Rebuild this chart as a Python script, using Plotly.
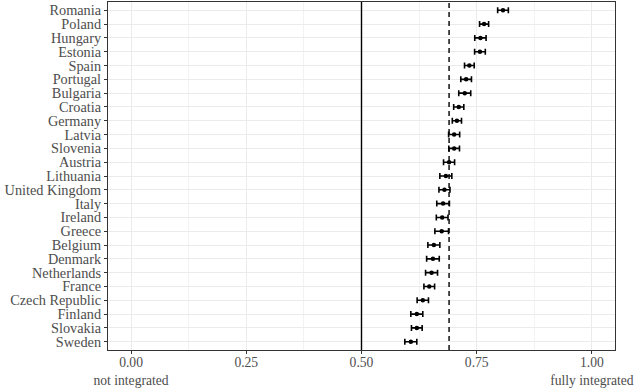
import plotly.graph_objects as go

countries = ["Romania", "Poland", "Hungary", "Estonia", "Spain", "Portugal", "Bulgaria",
             "Croatia", "Germany", "Latvia", "Slovenia", "Austria", "Lithuania",
             "United Kingdom", "Italy", "Ireland", "Greece", "Belgium", "Denmark",
             "Netherlands", "France", "Czech Republic", "Finland", "Slovakia", "Sweden"]
estimate = [0.807, 0.766, 0.758, 0.757, 0.734, 0.727, 0.724, 0.711, 0.707, 0.701, 0.701,
            0.690, 0.683, 0.680, 0.677, 0.675, 0.674, 0.657, 0.655, 0.652, 0.647, 0.633,
            0.620, 0.620, 0.607]
half_ci = [0.0116, 0.0098, 0.0123, 0.0116, 0.0105, 0.0116, 0.0130, 0.0110, 0.0100, 0.0120,
           0.0116, 0.0120, 0.0130, 0.0120, 0.0137, 0.0127, 0.0148, 0.0130, 0.0137, 0.0130,
           0.0116, 0.0123, 0.0130, 0.0116, 0.0130]
midpoint = 0.5
mean_value = 0.69
x_tickvals = [0, 0.25, 0.5, 0.75, 1.0]
x_ticktext = ["0.00<br>not integrated", "0.25", "0.50", "0.75", "1.00<br>fully integrated"]

fig = go.Figure()
fig.add_trace(go.Scatter(
    x=estimate, y=countries, mode="markers",
    marker=dict(color="black", size=4.5),
    error_x=dict(type="data", array=half_ci, symmetric=True, color="black",
                 thickness=1.6, width=3),
    showlegend=False, cliponaxis=False, hoverinfo="skip",
))

fig.add_shape(type="line", x0=midpoint, x1=midpoint, y0=0, y1=1, xref="x", yref="paper",
              line=dict(color="black", width=1.4), layer="above")
fig.add_shape(type="line", x0=mean_value, x1=mean_value, y0=0, y1=1, xref="x", yref="paper",
              line=dict(color="black", width=1.4, dash="5px,4px"), layer="above")

font = dict(family="Liberation Serif, Times New Roman, serif", size=14.3, color="#4D4D4D")
xfont = dict(family="Liberation Serif, Times New Roman, serif", size=13.6, color="#4D4D4D")
fig.update_layout(
    width=640, height=389,
    margin=dict(l=108, r=25, t=2, b=39, autoexpand=False),
    plot_bgcolor="white", paper_bgcolor="white",
    font=font,
    xaxis=dict(
        range=[-0.05, 1.05], tickvals=x_tickvals, ticktext=x_ticktext,
        automargin=False,
        showgrid=True, gridcolor="#EBEBEB", gridwidth=1.1,
        minor=dict(dtick=0.125, tick0=0, showgrid=True, gridcolor="#F2F2F2", gridwidth=0.6, ticklen=0),
        zeroline=False, showline=True, mirror=True, linecolor="#333333", linewidth=1.1,
        ticks="outside", ticklen=3, tickcolor="#333333", tickwidth=1.1,
        tickfont=xfont, ticklabelstandoff=-3,
    ),
    yaxis=dict(
        categoryorder="array", categoryarray=countries,
        tickmode="array", tickvals=countries, ticktext=countries,
        range=[len(countries) - 1 + 0.6, -0.6],
        automargin=False,
        showgrid=True, gridcolor="#EBEBEB", gridwidth=1.1,
        zeroline=False, showline=True, mirror=True, linecolor="#333333", linewidth=1.1,
        ticks="outside", ticklen=3, tickcolor="#333333", tickwidth=1.1,
        tickfont=font,
    ),
)

fig.write_html("out.html", config={"displayModeBar": False},
               post_script="document.body.style.margin='0';document.body.style.padding='0';")
